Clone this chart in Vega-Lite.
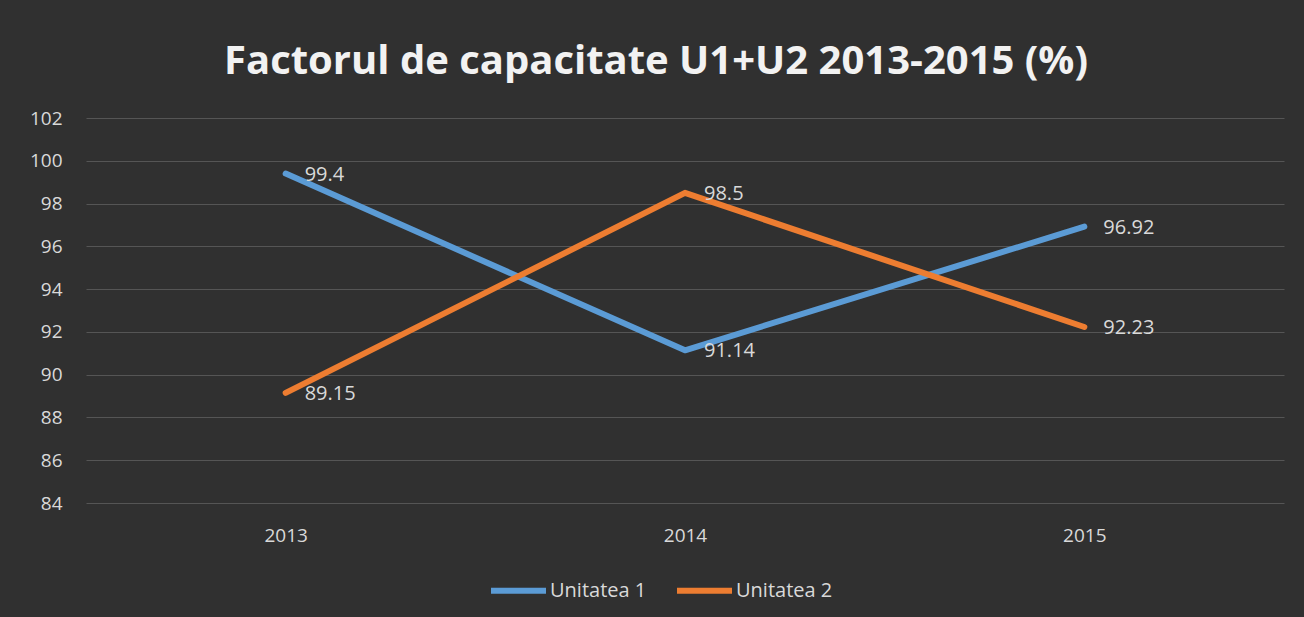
{
  "$schema": "https://vega.github.io/schema/vega-lite/v6.json",
  "width": 1198,
  "height": 385,
  "autosize": {"type": "none"},
  "padding": {"left": 86, "top": 118, "right": 20, "bottom": 114},
  "background": "#303030",
  "title": {
    "text": "Factorul de capacitate U1+U2 2013-2015 (%)",
    "font": "Open Sans",
    "fontSize": 40,
    "fontWeight": "bold",
    "color": "#f2f2f2",
    "anchor": "middle",
    "frame": "group",
    "dx": -29,
    "offset": 27
  },
  "data": {
    "values": [
      {"year": "2013", "series": "Unitatea 1", "value": 99.4},
      {"year": "2014", "series": "Unitatea 1", "value": 91.14},
      {"year": "2015", "series": "Unitatea 1", "value": 96.92},
      {"year": "2013", "series": "Unitatea 2", "value": 89.15},
      {"year": "2014", "series": "Unitatea 2", "value": 98.5},
      {"year": "2015", "series": "Unitatea 2", "value": 92.23}
    ]
  },
  "encoding": {
    "x": {
      "field": "year",
      "type": "ordinal",
      "scale": {"type": "point", "padding": 0.5},
      "axis": {
        "title": null,
        "labelAngle": 0,
        "domain": false,
        "ticks": false,
        "grid": false,
        "labelFont": "Open Sans",
        "labelFontSize": 19,
        "labelColor": "#d9d9d9",
        "labelPadding": 23
      }
    },
    "y": {
      "field": "value",
      "type": "quantitative",
      "scale": {"domain": [84, 102], "nice": false, "zero": false},
      "axis": {
        "title": null,
        "values": [84, 86, 88, 90, 92, 94, 96, 98, 100, 102],
        "domain": false,
        "ticks": false,
        "gridColor": "#555555",
        "gridWidth": 1,
        "labelFont": "Open Sans",
        "labelFontSize": 19,
        "labelColor": "#d9d9d9",
        "labelPadding": 24
      }
    }
  },
  "layer": [
    {
      "mark": {"type": "line", "strokeWidth": 6, "strokeCap": "round", "strokeJoin": "round"},
      "encoding": {
        "color": {
          "field": "series",
          "type": "nominal",
          "scale": {"domain": ["Unitatea 1", "Unitatea 2"], "range": ["#5B9BD5", "#ED7D31"]},
          "legend": {
            "title": null,
            "orient": "none",
            "direction": "horizontal",
            "legendX": 402,
            "legendY": 442,
            "symbolType": "stroke",
            "symbolSize": 3025,
            "symbolStrokeWidth": 6,
            "labelFont": "Open Sans",
            "labelFontSize": 20,
            "labelColor": "#d9d9d9",
            "labelOffset": 1,
            "columnPadding": 18,
            "padding": 0
          }
        }
      }
    },
    {
      "mark": {
        "type": "text",
        "align": "left",
        "baseline": "middle",
        "dx": 19,
        "dy": 1,
        "font": "Open Sans",
        "fontSize": 20,
        "color": "#d9d9d9"
      },
      "encoding": {
        "text": {"field": "value", "type": "quantitative"}
      }
    }
  ],
  "config": {
    "view": {"stroke": null}
  }
}
